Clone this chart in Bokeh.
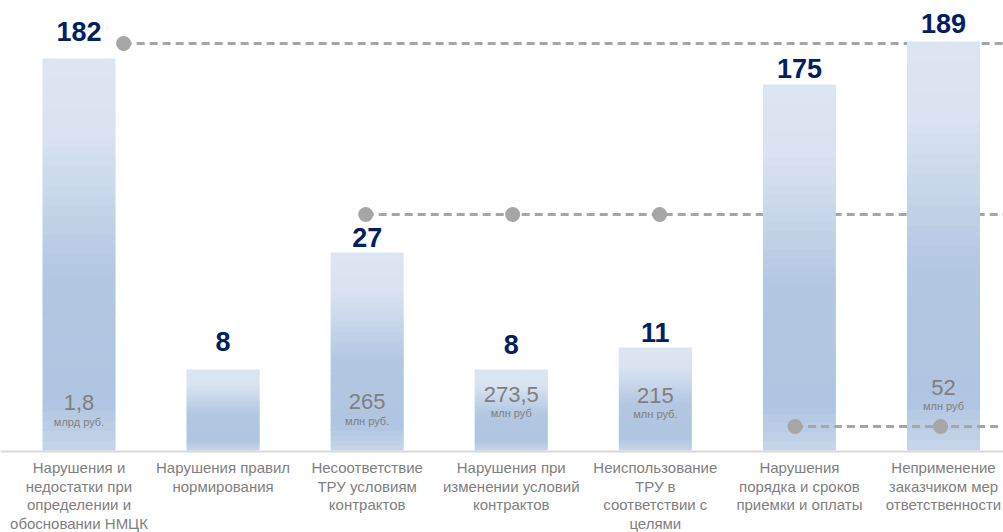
from bokeh.plotting import figure
from bokeh.models import Range1d, ColumnDataSource, Span
from bokeh.core.properties import value
from bokeh.embed import file_html
from bokeh.resources import INLINE

# ---- data ----
categories = [
    "Нарушения и\nнедостатки при\nопределении и\nобосновании НМЦК",
    "Нарушения правил\nнормирования",
    "Несоответствие\nТРУ условиям\nконтрактов",
    "Нарушения при\nизменении условий\nконтрактов",
    "Неиспользование\nТРУ в\nсоответствии с\nцелями",
    "Нарушения\nпорядка и сроков\nприемки и оплаты",
    "Неприменение\nзаказчиком мер\nответственности",
]
counts = [182, 8, 27, 8, 11, 175, 189]
bar_heights = [392, 81, 198, 81, 103, 366, 409]   # visual (non-proportional) bar heights
amounts = ["1,8", "", "265", "273,5", "215", "", "52"]
units = ["млрд руб.", "", "млн руб.", "млн руб", "млн руб.", "", "млн руб"]

# connector groups (dashed lines with dots)
group_x = [[0.31], [1.99, 3.01, 4.03], [4.97, 5.98]]
group_y = [407, 236, 24]

# ---- layout constants ----
W, H = 1003, 532
BASE = 450
PX = 144.08
X0 = -78.5 / PX
BAR_W = 73 / PX
label_gap = [27, 28, 15, 25, 15, 16, 18]
amount_y = [48, 0, 49, 56, 55, 0, 63]
unit_y = [29, 0, 30, 38, 37, 0, 45]

FONT = "Liberation Sans"
GRAY = "#7f7f7f"
LINE_GRAY = "#a6a6a6"

p = figure(width=W, height=H, output_backend="svg", toolbar_location=None,
           x_range=Range1d(X0, X0 + W / PX), y_range=Range1d(-(H - BASE), BASE),
           min_border=0, outline_line_color=None)
p.axis.visible = False
p.grid.visible = False

xs = list(range(len(categories)))

# baseline
p.add_layout(Span(location=-1.0, dimension="width", line_color="#d9d9d9", line_width=2))

def dashed(i):
    x_start = group_x[i][0]
    p.line([x_start, X0 + W / PX + 0.1], [group_y[i], group_y[i]],
           line_color=LINE_GRAY, line_width=3, line_dash="8 5")

# lines behind bars
dashed(0)
dashed(1)

# gradient bars built from slices
stops = [(0.0, (0xdc, 0xe6, 0xf2)), (0.18, (0xda, 0xe4, 0xf1)), (0.55, (0xb3, 0xc7, 0xe2)),
         (0.88, (0xb0, 0xc5, 0xe1)), (1.0, (0xc6, 0xd6, 0xea))]

def grad(t):
    for (t0, c0), (t1, c1) in zip(stops[:-1], stops[1:]):
        if t <= t1:
            f = (t - t0) / (t1 - t0) if t1 > t0 else 0
            c = [round(a + (b - a) * f) for a, b in zip(c0, c1)]
            return "#%02x%02x%02x" % tuple(c)
    return "#%02x%02x%02x" % stops[-1][1]

N = 40
L, R, B, T, C = [], [], [], [], []
for x, h in zip(xs, bar_heights):
    for k in range(N):
        y0 = h * k / N
        y1 = min(h, h * (k + 1) / N + 1.0)
        t = 1 - (k + 0.5) / N
        L.append(x - BAR_W / 2)
        R.append(x + BAR_W / 2)
        B.append(y0)
        T.append(y1)
        C.append(grad(t))
p.quad(left=L, right=R, bottom=B, top=T, fill_color=C, line_color=None)

# line over bars
dashed(2)

# dots
for gx, gy in zip(group_x, group_y):
    p.scatter(gx, [gy] * len(gx), size=15, fill_color=LINE_GRAY, line_color=None)

# value labels
src = ColumnDataSource(dict(
    x=xs, y=[h + g for h, g in zip(bar_heights, label_gap)], t=[str(c) for c in counts]))
p.text(x="x", y="y", text="t", source=src, text_font=value(FONT), text_font_style="bold",
       text_font_size="27px", text_color="#002060", text_align="center", text_baseline="middle")

# amounts inside bars
ax = [x for x, a in zip(xs, amounts) if a]
p.text(x=ax, y=[y for y, a in zip(amount_y, amounts) if a], text=[a for a in amounts if a],
       text_font=value(FONT), text_font_size="22px", text_color=GRAY,
       text_align="center", text_baseline="middle")
p.text(x=ax, y=[y for y, a in zip(unit_y, amounts) if a], text=[u for u in units if u],
       text_font=value(FONT), text_font_size="11px", text_color=GRAY,
       text_align="center", text_baseline="middle")

# category labels
p.text(x=xs, y=[-8.5] * len(xs), text=categories, text_font=value(FONT),
       text_font_size="15px", text_color=GRAY, text_align="center", text_baseline="top",
       text_line_height=1.1)

open("out.html", "w").write(file_html(p, INLINE))
